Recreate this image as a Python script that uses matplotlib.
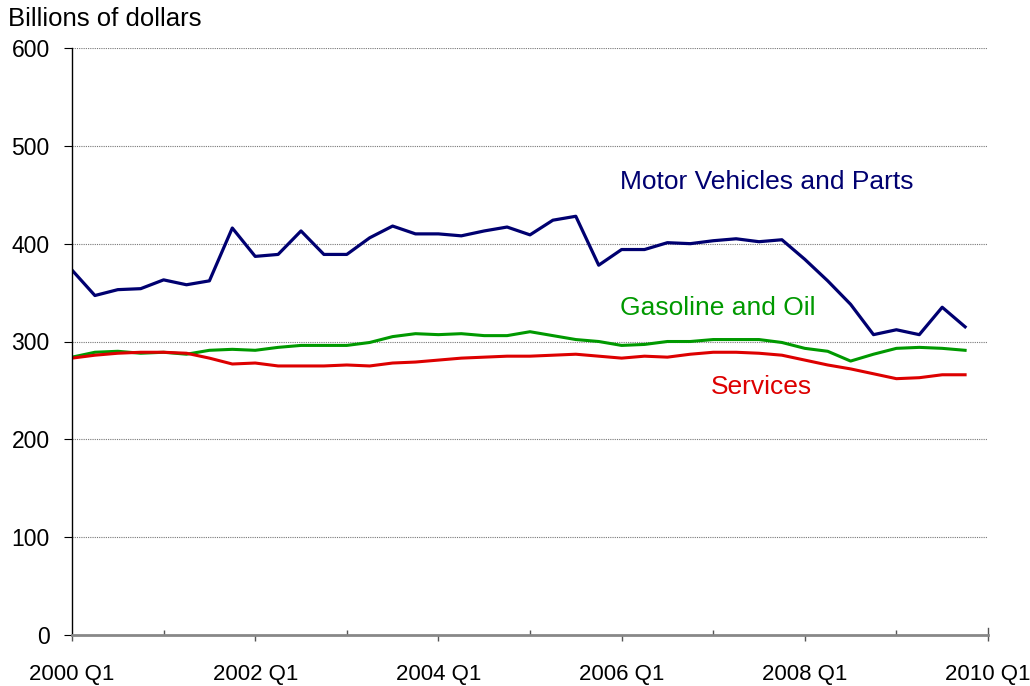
import matplotlib
matplotlib.use("Agg")
import matplotlib.pyplot as plt
from matplotlib.ticker import MultipleLocator, FixedLocator

plt.rcParams['font.family'] = ['Liberation Sans', 'DejaVu Sans']

quarters = [f"{2000 + i // 4} Q{i % 4 + 1}" for i in range(40)]
motor = [373, 347, 353, 354, 363, 358, 362, 416, 387, 389, 413, 389, 389, 406, 418, 410,
         410, 408, 413, 417, 409, 424, 428, 378, 394, 394, 401, 400, 403, 405, 402, 404,
         384, 362, 338, 307, 312, 307, 335, 315]
gasoline = [284, 289, 290, 288, 289, 287, 291, 292, 291, 294, 296, 296, 296, 299, 305, 308,
            307, 308, 306, 306, 310, 306, 302, 300, 296, 297, 300, 300, 302, 302, 302, 299,
            293, 290, 280, 287, 293, 294, 293, 291]
services = [283, 286, 288, 289, 289, 288, 283, 277, 278, 275, 275, 275, 276, 275, 278, 279,
            281, 283, 284, 285, 285, 286, 287, 285, 283, 285, 284, 287, 289, 289, 288, 286,
            281, 276, 272, 267, 262, 263, 266, 266]
xtick_labels = ["2000 Q1", "2002 Q1", "2004 Q1", "2006 Q1", "2008 Q1", "2010 Q1"]

fig = plt.figure(figsize=(10.3, 6.86), dpi=100)
ax = fig.add_axes([72/1030, 1 - 635/686, (988-72)/1030, (635-48)/686])

x = list(range(len(quarters)))
navy, green, red = "#000070", "#009900", "#DD0000"
ax.plot(x, motor, color=navy, lw=2.3)
ax.plot(x, gasoline, color=green, lw=2.2)
ax.plot(x, services, color=red, lw=2.2)

ax.set_xlim(0, 40)
ax.set_ylim(0, 600)
ax.yaxis.set_major_locator(MultipleLocator(100))
ax.set_xticks([0, 8, 16, 24, 32, 40])
ax.set_xticklabels(xtick_labels)
ax.xaxis.set_minor_locator(FixedLocator([4, 12, 20, 28, 36]))
ax.tick_params(axis='x', which='major', direction='out', length=4.5, width=1, pad=16.5,
               labelsize=16, color='#555555')
ax.tick_params(axis='x', which='minor', direction='in', length=3.5, width=1, color='#555555')
ax.tick_params(axis='y', direction='out', length=6, pad=10, labelsize=16.5)
ax.grid(axis='y', color='#777777', linestyle=(0, (1, 1)), lw=0.8)
ax.set_axisbelow(True)
for s in ['top', 'right']:
    ax.spines[s].set_visible(False)
ax.spines['bottom'].set_color('#888888')
ax.spines['bottom'].set_linewidth(2)
ax.spines['left'].set_color('black')
ax.spines['left'].set_linewidth(1)
# tick at 2010 Q1 extending upward
ax.plot([40, 40], [0, 7], color='#555555', lw=1, clip_on=False)

ax.text(30.35, 463, "Motor Vehicles and Parts", color=navy, fontsize=19, ha='center', va='center')
ax.text(28.2, 334, "Gasoline and Oil", color=green, fontsize=19, ha='center', va='center')
ax.text(30.1, 253, "Services", color=red, fontsize=19, ha='center', va='center')

fig.text(8/1030, 1 - 19/686, "Billions of dollars", fontsize=18.5, ha='left', va='center')

fig.savefig("out.png", dpi=100)
